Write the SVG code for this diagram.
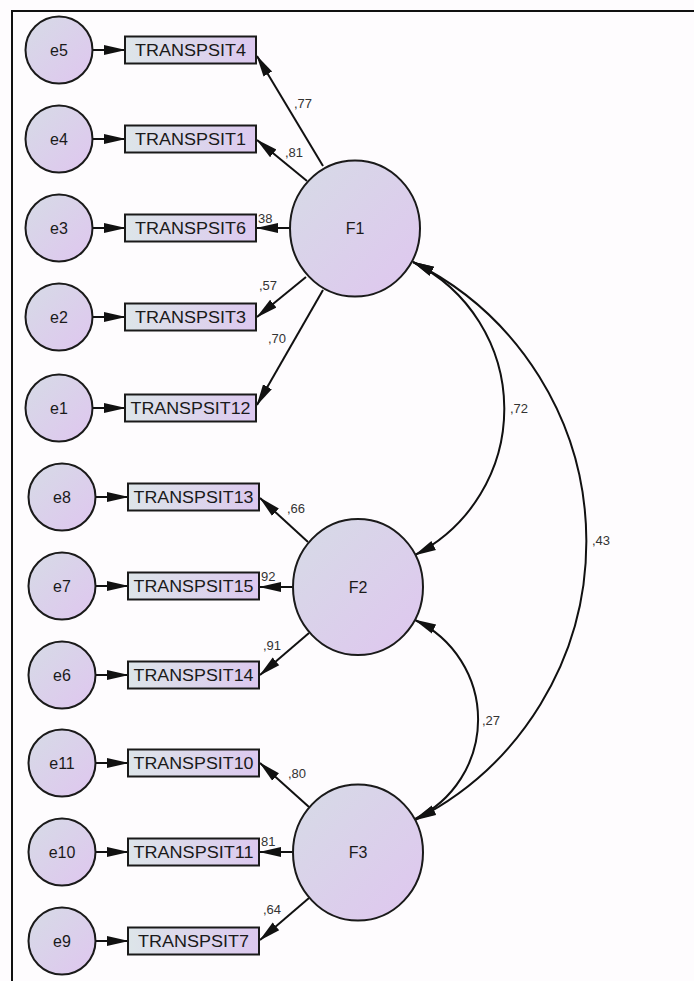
<svg xmlns="http://www.w3.org/2000/svg" width="694" height="981" viewBox="0 0 694 981">
  <defs>
    <linearGradient id="gCircle" x1="0" y1="0" x2="1" y2="1">
      <stop offset="0" stop-color="#d6dbe6"/>
      <stop offset="1" stop-color="#dfc6ef"/>
    </linearGradient>
    <linearGradient id="gBox" x1="0" y1="0" x2="1" y2="0">
      <stop offset="0" stop-color="#dde5e9"/>
      <stop offset="1" stop-color="#dcc8ef"/>
    </linearGradient>
    <marker id="head" markerUnits="userSpaceOnUse" markerWidth="22" markerHeight="12" viewBox="0 0 22 12" refX="21" refY="6" orient="auto-start-reverse">
      <path d="M0,1 L22,6 L0,11 Z" fill="#111"/>
    </marker>
    <style>
      .err circle { fill: url(#gCircle); stroke: #1a1a1a; stroke-width: 2; }
      .lat ellipse { fill: url(#gCircle); stroke: #1a1a1a; stroke-width: 2; }
      .obs rect { fill: url(#gBox); stroke: #1a1a1a; stroke-width: 2; }
      .nt { font-family: "Liberation Sans", Arial, sans-serif; font-size: 16px; fill: #1a1a1a; }
      .et { font-family: "Liberation Sans", Arial, sans-serif; font-size: 16px; fill: #1a1a1a; text-anchor: middle; }
      .lt { font-family: "Liberation Sans", Arial, sans-serif; font-size: 16px; fill: #1a1a1a; text-anchor: middle; }
      .wt { font-family: "Liberation Sans", Arial, sans-serif; font-size: 13px; fill: #333; }
      #connectors path, #connectors line { stroke: #111; stroke-width: 2; fill: none; marker-end: url(#head); }
      #connectors .cov { marker-start: url(#head); }
    </style>
  </defs>

  <rect width="694" height="981" fill="#fefcfe"/>
  <path d="M12,981 V11 H694" fill="none" stroke="#111" stroke-width="2"/>

  <!-- connectors: error terms, loadings, covariances -->
  <g id="connectors">
    <line x1="92.5" y1="50" x2="125" y2="50"/>
    <line x1="92.5" y1="139" x2="125" y2="139"/>
    <line x1="92.5" y1="228" x2="125" y2="228"/>
    <line x1="92.5" y1="317" x2="125" y2="317"/>
    <line x1="92.5" y1="408" x2="125" y2="408"/>
    <line x1="95.5" y1="497" x2="128" y2="497"/>
    <line x1="95.5" y1="586" x2="128" y2="586"/>
    <line x1="95.5" y1="675" x2="128" y2="675"/>
    <line x1="95.5" y1="763" x2="128" y2="763"/>
    <line x1="95.5" y1="852" x2="128" y2="852"/>
    <line x1="95.5" y1="941" x2="128" y2="941"/>

    <line x1="323" y1="166" x2="257" y2="56"/>
    <line x1="307" y1="181" x2="257" y2="140"/>
    <line x1="290" y1="228" x2="257" y2="228"/>
    <line x1="306" y1="277" x2="257" y2="317"/>
    <line x1="323" y1="290" x2="257" y2="405"/>

    <line x1="308" y1="542" x2="260" y2="498"/>
    <line x1="293" y1="587" x2="260" y2="587"/>
    <line x1="309" y1="633" x2="260" y2="675"/>

    <line x1="309" y1="807" x2="260" y2="763"/>
    <line x1="293" y1="852" x2="260" y2="852"/>
    <line x1="309" y1="898" x2="260" y2="940"/>

    <path class="cov" d="M413,262 A164,164 0 0 1 415,555"/>
    <path class="cov" d="M413,262 A312,312 0 0 1 415,820"/>
    <path class="cov" d="M415,620 A110,110 0 0 1 415,819"/>
  </g>

  <!-- error terms -->
  <g id="e5" class="err"><circle cx="59" cy="50" r="33.5"/><text class="et" x="59" y="55.5">e5</text></g>
  <g id="e4" class="err"><circle cx="59" cy="139" r="33.5"/><text class="et" x="59" y="144.5">e4</text></g>
  <g id="e3" class="err"><circle cx="59" cy="228" r="33.5"/><text class="et" x="59" y="233.5">e3</text></g>
  <g id="e2" class="err"><circle cx="59" cy="317" r="33.5"/><text class="et" x="59" y="322.5">e2</text></g>
  <g id="e1" class="err"><circle cx="59" cy="408" r="33.5"/><text class="et" x="59" y="413.5">e1</text></g>
  <g id="e8" class="err"><circle cx="62" cy="497" r="33.5"/><text class="et" x="62" y="502.5">e8</text></g>
  <g id="e7" class="err"><circle cx="62" cy="586" r="33.5"/><text class="et" x="62" y="591.5">e7</text></g>
  <g id="e6" class="err"><circle cx="62" cy="675" r="33.5"/><text class="et" x="62" y="680.5">e6</text></g>
  <g id="e11" class="err"><circle cx="62" cy="763" r="33.5"/><text class="et" x="62" y="768.5">e11</text></g>
  <g id="e10" class="err"><circle cx="62" cy="852" r="33.5"/><text class="et" x="62" y="857.5">e10</text></g>
  <g id="e9" class="err"><circle cx="62" cy="941" r="33.5"/><text class="et" x="62" y="946.5">e9</text></g>

  <!-- observed indicators -->
  <g id="TRANSPSIT4" class="obs"><rect x="125" y="36.5" width="131" height="27"/><text class="nt" x="135" y="55.5" textLength="111" lengthAdjust="spacingAndGlyphs">TRANSPSIT4</text></g>
  <g id="TRANSPSIT1" class="obs"><rect x="125" y="125.5" width="131" height="27"/><text class="nt" x="135" y="144.5" textLength="111" lengthAdjust="spacingAndGlyphs">TRANSPSIT1</text></g>
  <g id="TRANSPSIT6" class="obs"><rect x="125" y="214.5" width="131" height="27"/><text class="nt" x="135" y="233.5" textLength="111" lengthAdjust="spacingAndGlyphs">TRANSPSIT6</text></g>
  <g id="TRANSPSIT3" class="obs"><rect x="125" y="303.5" width="131" height="27"/><text class="nt" x="135" y="322.5" textLength="111" lengthAdjust="spacingAndGlyphs">TRANSPSIT3</text></g>
  <g id="TRANSPSIT12" class="obs"><rect x="125" y="394.5" width="131" height="27"/><text class="nt" x="130.5" y="413.5" textLength="120" lengthAdjust="spacingAndGlyphs">TRANSPSIT12</text></g>
  <g id="TRANSPSIT13" class="obs"><rect x="128" y="483.5" width="131" height="27"/><text class="nt" x="133.5" y="502.5" textLength="120" lengthAdjust="spacingAndGlyphs">TRANSPSIT13</text></g>
  <g id="TRANSPSIT15" class="obs"><rect x="128" y="572.5" width="131" height="27"/><text class="nt" x="133.5" y="591.5" textLength="120" lengthAdjust="spacingAndGlyphs">TRANSPSIT15</text></g>
  <g id="TRANSPSIT14" class="obs"><rect x="128" y="661.5" width="131" height="27"/><text class="nt" x="133.5" y="680.5" textLength="120" lengthAdjust="spacingAndGlyphs">TRANSPSIT14</text></g>
  <g id="TRANSPSIT10" class="obs"><rect x="128" y="749.5" width="131" height="27"/><text class="nt" x="133.5" y="768.5" textLength="120" lengthAdjust="spacingAndGlyphs">TRANSPSIT10</text></g>
  <g id="TRANSPSIT11" class="obs"><rect x="128" y="838.5" width="131" height="27"/><text class="nt" x="133.5" y="857.5" textLength="120" lengthAdjust="spacingAndGlyphs">TRANSPSIT11</text></g>
  <g id="TRANSPSIT7" class="obs"><rect x="128" y="927.5" width="131" height="27"/><text class="nt" x="138" y="946.5" textLength="111" lengthAdjust="spacingAndGlyphs">TRANSPSIT7</text></g>

  <!-- latent factors -->
  <g id="F1" class="lat"><ellipse cx="355" cy="228.5" rx="65" ry="68"/><text class="lt" x="355" y="234">F1</text></g>
  <g id="F2" class="lat"><ellipse cx="358" cy="587" rx="65" ry="68"/><text class="lt" x="358" y="592.5">F2</text></g>
  <g id="F3" class="lat"><ellipse cx="358" cy="852.5" rx="65" ry="68"/><text class="lt" x="358" y="858">F3</text></g>

  <!-- estimates -->
  <g id="estimates">
    <text class="wt" x="294" y="107.5">,77</text>
    <text class="wt" x="285" y="156.5">,81</text>
    <text class="wt" x="258" y="222.5">38</text>
    <text class="wt" x="259" y="289.5">,57</text>
    <text class="wt" x="268" y="342.5">,70</text>
    <text class="wt" x="287" y="512.5">,66</text>
    <text class="wt" x="261" y="580.5">92</text>
    <text class="wt" x="263" y="649.5">,91</text>
    <text class="wt" x="288" y="777.5">,80</text>
    <text class="wt" x="261" y="845.5">81</text>
    <text class="wt" x="263" y="913.5">,64</text>
    <text class="wt" x="510" y="412.5">,72</text>
    <text class="wt" x="592" y="544.5">,43</text>
    <text class="wt" x="482" y="724.5">,27</text>
  </g>
</svg>
